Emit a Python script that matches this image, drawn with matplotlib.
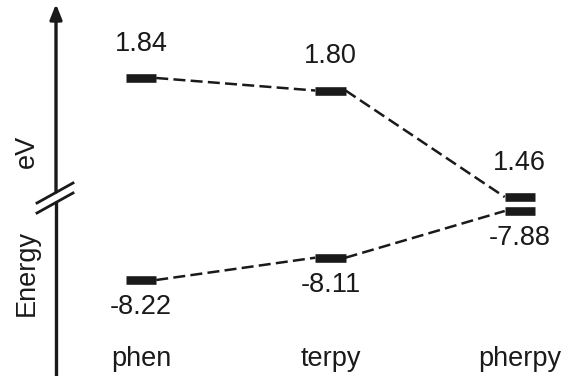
import matplotlib
matplotlib.use("Agg")
import matplotlib.pyplot as plt

plt.rcParams['font.family'] = ['Liberation Sans', 'DejaVu Sans']

categories = ["phen", "terpy", "pherpy"]
lumo = [1.84, 1.80, 1.46]
homo = [-8.22, -8.11, -7.88]
lumo_labels = ["1.84", "1.80", "1.46"]
homo_labels = ["-8.22", "-8.11", "-7.88"]

W, H = 571, 376
INK = '#1a1a1a'
FS = 19.5
fig = plt.figure(figsize=(W / 100, H / 100), dpi=100)

xlim = (-0.745, 2.27)
bw = 0.08  # half width of level bars
split = 204 / H  # fraction from top

ax_u = fig.add_axes([0, 1 - split, 1, split])
ax_l = fig.add_axes([0, 0, 1, 1 - split])
for ax in (ax_u, ax_l):
    ax.set_xlim(*xlim)
    ax.axis('off')

# upper scale (broken axis): 1.84 -> y=78px, 1.46 -> y=197px
ppe_u = (197 - 78) / (1.84 - 1.46)
top_val = 1.84 + 78 / ppe_u
ax_u.set_ylim(top_val - 204 / ppe_u, top_val)
# lower scale: -8.22 -> 280px, -7.88 -> 211px
ppe_l = (280 - 211) / (8.22 - 7.88)
top_l = -7.88 + (211 - 204) / ppe_l
ax_l.set_ylim(top_l - (H - 204) / ppe_l, top_l)


def draw_levels(ax, vals, labels, off):
    for i, v in enumerate(vals):
        ax.plot([i - bw, i + bw], [v, v], color=INK, lw=6.2,
                solid_capstyle='butt', clip_on=False, zorder=3)
    for i in range(len(vals) - 1):
        ax.plot([i + bw, i + 1 - bw], [vals[i], vals[i + 1]], color=INK,
                lw=1.8, ls=(0, (4.8, 2.1)), clip_on=False, zorder=2)
    for i, (v, t) in enumerate(zip(vals, labels)):
        ax.annotate(t, (i, v), xytext=(0, off), textcoords='offset points',
                    ha='center', va='center', fontsize=FS, color=INK,
                    annotation_clip=False)


draw_levels(ax_u, lumo, lumo_labels, 24.5)
draw_levels(ax_l, homo, homo_labels, -19.5)

# overlay axes in pixel coordinates for the energy axis and labels
ov = fig.add_axes([0, 0, 1, 1])
ov.set_xlim(0, W)
ov.set_ylim(H, 0)
ov.axis('off')

for i, c in enumerate(categories):
    xpix = ax_l.transData.transform((i, 0))[0]
    ov.text(xpix, 359, c, ha='center', va='center', fontsize=FS, color=INK)

ax_x = 56
ov.annotate('', xy=(ax_x, 4), xytext=(ax_x, 192),
            arrowprops=dict(arrowstyle='-|>,head_length=0.9,head_width=0.36',
                            color=INK, lw=2.4, shrinkA=0, shrinkB=0))
ov.plot([ax_x, ax_x], [203, H + 2], color=INK, lw=2.4, clip_on=False)
ov.plot([37, 73], [203, 183], color=INK, lw=2.0)
ov.plot([37, 73], [213, 193], color=INK, lw=2.0)

ov.text(27, 273, 'Energy', rotation=90, ha='center', va='center',
        fontsize=FS, color=INK)
ov.text(27, 151, 'eV', rotation=90, ha='center', va='center',
        fontsize=FS, color=INK)

fig.savefig('out.png', dpi=100)
